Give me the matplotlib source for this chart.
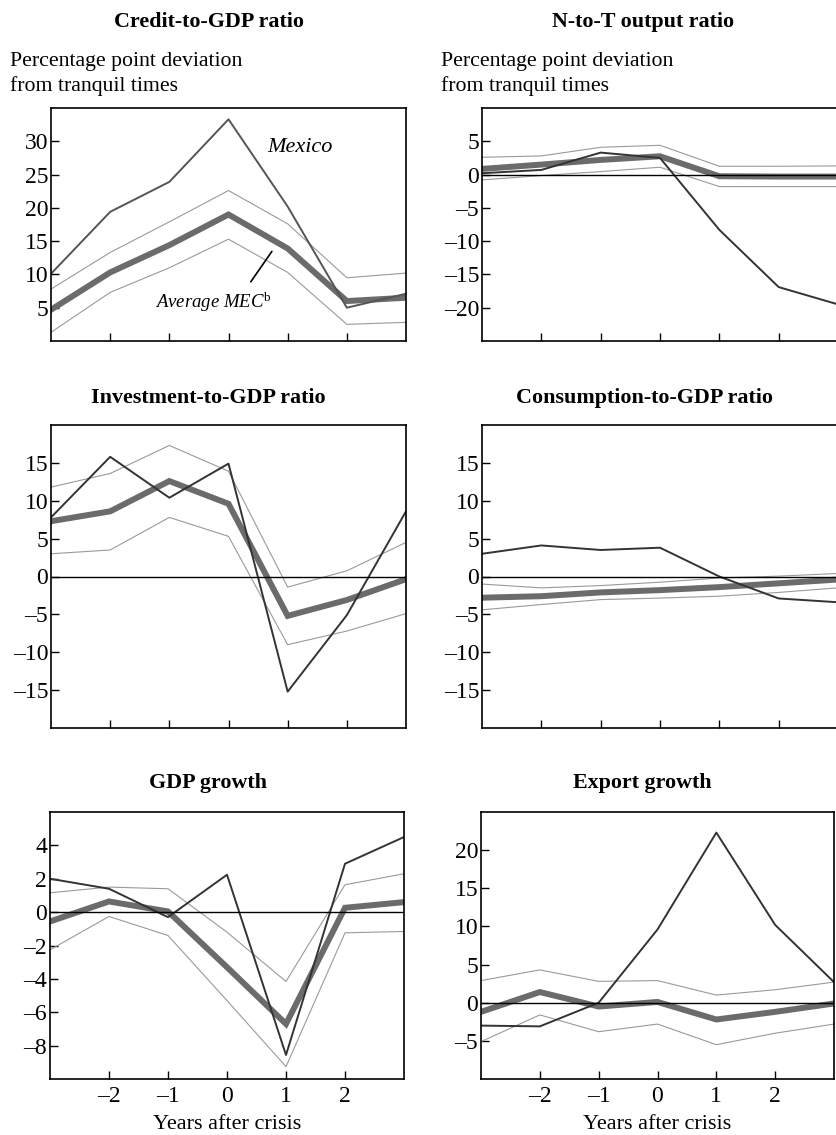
import matplotlib
matplotlib.use('Agg')
import matplotlib.pyplot as plt

plt.rcParams['font.family'] = ['Liberation Serif', 'DejaVu Serif']
plt.rcParams['mathtext.fontset'] = 'custom'
plt.rcParams['mathtext.rm'] = 'Liberation Serif'
plt.rcParams['mathtext.it'] = 'Liberation Serif:italic'

years = [-3, -2, -1, 0, 1, 2, 3]

titles = ['Credit-to-GDP ratio', 'N-to-T output ratio',
          'Investment-to-GDP ratio', 'Consumption-to-GDP ratio',
          'GDP growth', 'Export growth']

# Mexico, average MEC, upper band, lower band
credit_mex = [10.1, 19.4, 23.9, 33.3, 20.2, 5.0, 7.1]
credit_avg = [4.7, 10.3, 14.4, 19.0, 13.9, 6.0, 6.5]
credit_hi = [7.8, 13.3, 17.9, 22.6, 17.6, 9.5, 10.2]
credit_lo = [1.3, 7.3, 11.0, 15.3, 10.3, 2.5, 2.8]

nt_mex = [0.2, 0.7, 3.3, 2.5, -8.3, -16.9, -19.5]
nt_avg = [0.85, 1.5, 2.2, 2.75, -0.25, -0.3, -0.3]
nt_hi = [2.6, 2.8, 4.1, 4.4, 1.25, 1.25, 1.3]
nt_lo = [-0.8, -0.15, 0.45, 1.1, -1.8, -1.8, -1.8]

inv_mex = [7.8, 15.8, 10.4, 14.9, -15.2, -5.1, 8.6]
inv_avg = [7.3, 8.6, 12.6, 9.6, -5.2, -3.1, -0.35]
inv_hi = [11.8, 13.6, 17.3, 13.9, -1.4, 0.75, 4.5]
inv_lo = [3.0, 3.5, 7.8, 5.3, -9.0, -7.2, -4.9]

cons_mex = [3.0, 4.1, 3.5, 3.8, 0.0, -2.9, -3.4]
cons_avg = [-2.8, -2.6, -2.1, -1.8, -1.4, -0.9, -0.4]
cons_hi = [-1.0, -1.5, -1.2, -0.75, -0.2, 0.05, 0.4]
cons_lo = [-4.4, -3.7, -3.05, -2.85, -2.6, -2.1, -1.5]

gdp_mex = [2.0, 1.4, -0.3, 2.24, -8.56, 2.9, 4.5]
gdp_avg = [-0.56, 0.64, 0.04, -3.3, -6.7, 0.26, 0.6]
gdp_hi = [1.16, 1.5, 1.4, -1.2, -4.16, 1.64, 2.3]
gdp_lo = [-2.26, -0.26, -1.4, -5.3, -9.26, -1.24, -1.16]

exp_mex = [-3.0, -3.1, 0.0, 9.6, 22.3, 10.2, 2.7]
exp_avg = [-1.2, 1.4, -0.5, 0.1, -2.2, -1.2, -0.1]
exp_hi = [2.9, 4.3, 2.8, 2.9, 1.0, 1.7, 2.7]
exp_lo = [-5.1, -1.6, -3.8, -2.8, -5.5, -4.0, -2.8]

series = [
    (credit_mex, credit_avg, credit_hi, credit_lo),
    (nt_mex, nt_avg, nt_hi, nt_lo),
    (inv_mex, inv_avg, inv_hi, inv_lo),
    (cons_mex, cons_avg, cons_hi, cons_lo),
    (gdp_mex, gdp_avg, gdp_hi, gdp_lo),
    (exp_mex, exp_avg, exp_hi, exp_lo),
]

ylims = [(0, 35), (-25, 10), (-20, 20), (-20, 20), (-10, 6), (-10, 25)]
yticks = [[5, 10, 15, 20, 25, 30], [-20, -15, -10, -5, 0, 5],
          [-15, -10, -5, 0, 5, 10, 15], [-15, -10, -5, 0, 5, 10, 15],
          [-8, -6, -4, -2, 0, 2, 4], [-5, 0, 5, 10, 15, 20]]
xticks = [-2, -1, 0, 1, 2]


def dash_label(v):
    # the original uses an en dash for negative numbers
    return str(v).replace('-', '\u2013')


W, H = 836, 1135
fig = plt.figure(figsize=(W / 100, H / 100), dpi=100)

# axes boxes in pixels: left, right, top, bottom
boxes = [(51, 406, 108, 341), (482, 838, 108, 341),
         (51, 406, 425, 728), (482, 838, 425, 728),
         (50, 404, 812, 1079), (481, 834, 812, 1079)]
title_pos = [(209, 27), (643, 27), (208, 403), (644, 403), (208, 788), (642, 788)]

for i, (l, r, t, b) in enumerate(boxes):
    ax = fig.add_axes([l / W, 1 - b / H, (r - l) / W, (b - t) / H])
    mex, avg, hi, lo = series[i]
    ax.plot(years, hi, color='#9a9a9a', lw=0.8)
    ax.plot(years, lo, color='#9a9a9a', lw=0.8)
    ax.plot(years, avg, color='#6b6b6b', lw=4.3, solid_joinstyle='miter')
    mex_color = '#555555' if i == 0 else '#333333'
    ax.plot(years, mex, color=mex_color, lw=1.4)
    if i > 0:
        ax.axhline(0, color='black', lw=1.0)
    ax.set_xlim(-3, 3)
    ax.set_ylim(*ylims[i])
    ax.set_yticks(yticks[i])
    ax.set_yticklabels([dash_label(v) for v in yticks[i]])
    ax.set_xticks(xticks)
    ax.tick_params(direction='in', length=6, width=1, labelsize=17, pad=2)
    for s in ax.spines.values():
        s.set_linewidth(1.2)
    if i < 4:
        ax.set_xticklabels([])
    else:
        ax.set_xticklabels([dash_label(v) for v in xticks])
        ax.tick_params(axis='x', pad=5)
        ax.set_xlabel('Years after crisis', fontsize=16, labelpad=6)
    fig.text(title_pos[i][0] / W, 1 - title_pos[i][1] / H, titles[i],
             ha='center', va='baseline', fontsize=15.8, fontweight='bold')
    if i == 0:
        ax.text(1.21, 29.0, 'Mexico', style='italic', fontsize=16,
                ha='center', va='center')
        ax.text(-0.26, 5.75, r'$\mathit{Average\ MEC}^{\mathrm{b}}$',
                fontsize=13.5, ha='center', va='center')
        ax.annotate('', xy=(0.76, 13.8), xytext=(0.35, 8.55),
                    arrowprops=dict(arrowstyle='-', color='black', lw=1.2))

for x0 in (10, 441):
    fig.text(x0 / W, 1 - 66 / H, 'Percentage point deviation',
             ha='left', va='baseline', fontsize=15.7)
    fig.text(x0 / W, 1 - 91 / H, 'from tranquil times',
             ha='left', va='baseline', fontsize=15.7)

plt.savefig('out.png', dpi=100)
